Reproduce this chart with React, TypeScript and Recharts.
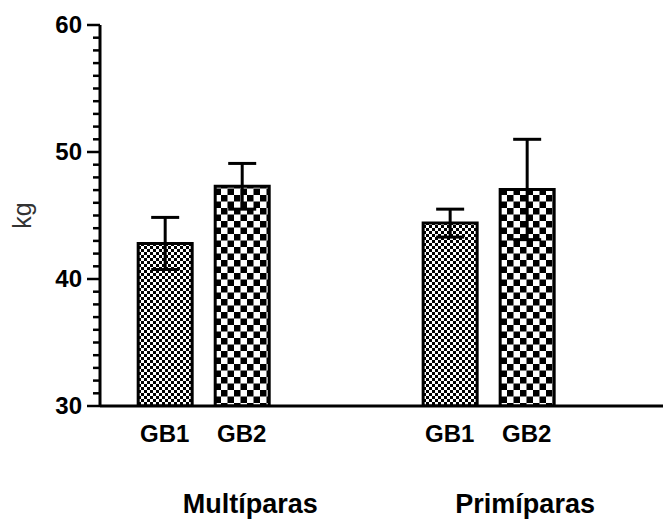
import { Bar, BarChart, Cell, ErrorBar, Label, XAxis, YAxis } from "recharts";

const groups = ["Multíparas", "Primíparas"];
const groupPos = [2.11, 5.68];
const labels = ["GB1", "GB2", "GB1", "GB2"];
const positions = [1, 2, 4.7, 5.7];
const means = [42.8, 47.3, 44.4, 47.05];
const sems = [2.05, 1.8, 1.1, 3.95];
const yTicks = [
  30, 31, 32, 33, 34, 35, 36, 37, 38, 39, 40, 41, 42, 43, 44, 45, 46, 47, 48, 49, 50, 51, 52, 53,
  54, 55, 56, 57, 58, 59, 60,
];

const font = "'Liberation Sans', Arial, sans-serif";

const data = labels.map((name, i) => ({ name, pos: positions[i], value: means[i], err: sems[i] }));

function YTick({ x, y, payload }: any) {
  const major = payload.value % 10 === 0;
  return (
    <g>
      <line x1={x - (major ? 13 : 7)} x2={x} y1={y} y2={y} stroke="#000" strokeWidth={2.5} />
      {major && (
        <text
          x={x - 18}
          y={y}
          dy="0.35em"
          textAnchor="end"
          fontSize={24}
          fontWeight="bold"
          fontFamily={font}
          fill="#000"
        >
          {payload.value}
        </text>
      )}
    </g>
  );
}

export default function App() {
  return (
    <div style={{ position: "absolute", left: 0, top: 0, background: "#fff" }}>
      <BarChart
        width={663}
        height={519}
        data={data}
        margin={{ top: 25, right: 0, bottom: 0, left: 0 }}
        style={{ fontFamily: font }}
      >
        <defs>
          <pattern id="fine" width="6" height="6" patternUnits="userSpaceOnUse">
            <rect width="6" height="6" fill="#fff" />
            <rect x="0" y="0" width="3" height="3" fill="#000" />
            <rect x="3" y="3" width="3" height="3" fill="#000" />
          </pattern>
          <pattern id="coarse" width="13" height="13" patternUnits="userSpaceOnUse">
            <rect width="13" height="13" fill="#fff" />
            <rect x="0" y="0" width="6.5" height="6.5" fill="#000" />
            <rect x="6.5" y="6.5" width="6.5" height="6.5" fill="#000" />
          </pattern>
        </defs>
        <XAxis
          dataKey="pos"
          type="number"
          domain={[0.16, 7.47]}
          ticks={positions}
          interval={0}
          allowDataOverflow
          height={40}
          tickLine={false}
          tickSize={0}
          tickMargin={19}
          tickFormatter={(v: number) => labels[positions.indexOf(v)] ?? ""}
          tick={{ fill: "#000", fontSize: 24, fontWeight: "bold" }}
          axisLine={{ stroke: "#000", strokeWidth: 3 }}
        />
        <XAxis
          xAxisId="grp"
          dataKey="pos"
          type="number"
          domain={[0.16, 7.47]}
          ticks={groupPos}
          interval={0}
          allowDataOverflow
          height={73}
          tickLine={false}
          axisLine={false}
          tickSize={0}
          tickMargin={48}
          tickFormatter={(v: number) => groups[groupPos.indexOf(v)] ?? ""}
          tick={{ fill: "#000", fontSize: 27, fontWeight: "bold" }}
        />
        <YAxis
          type="number"
          domain={[30, 60]}
          ticks={yTicks}
          interval={0}
          allowDataOverflow
          width={100}
          tickLine={false}
          tickSize={0}
          tickMargin={0}
          tick={<YTick />}
          axisLine={{ stroke: "#000", strokeWidth: 3 }}
        >
          <Label
            value="kg"
            angle={-90}
            position="insideLeft"
            offset={22}
            style={{ fill: "#333", fontSize: 25, textAnchor: "middle" }}
          />
        </YAxis>
        <Bar dataKey="value" barSize={54} stroke="#000" strokeWidth={3} isAnimationActive={false}>
          {data.map((d, i) => (
            <Cell key={i} fill={d.name === "GB1" ? "url(#fine)" : "url(#coarse)"} />
          ))}
          <ErrorBar dataKey="err" width={14} stroke="#000" strokeWidth={3} isAnimationActive={false} />
        </Bar>
      </BarChart>
    </div>
  );
}
